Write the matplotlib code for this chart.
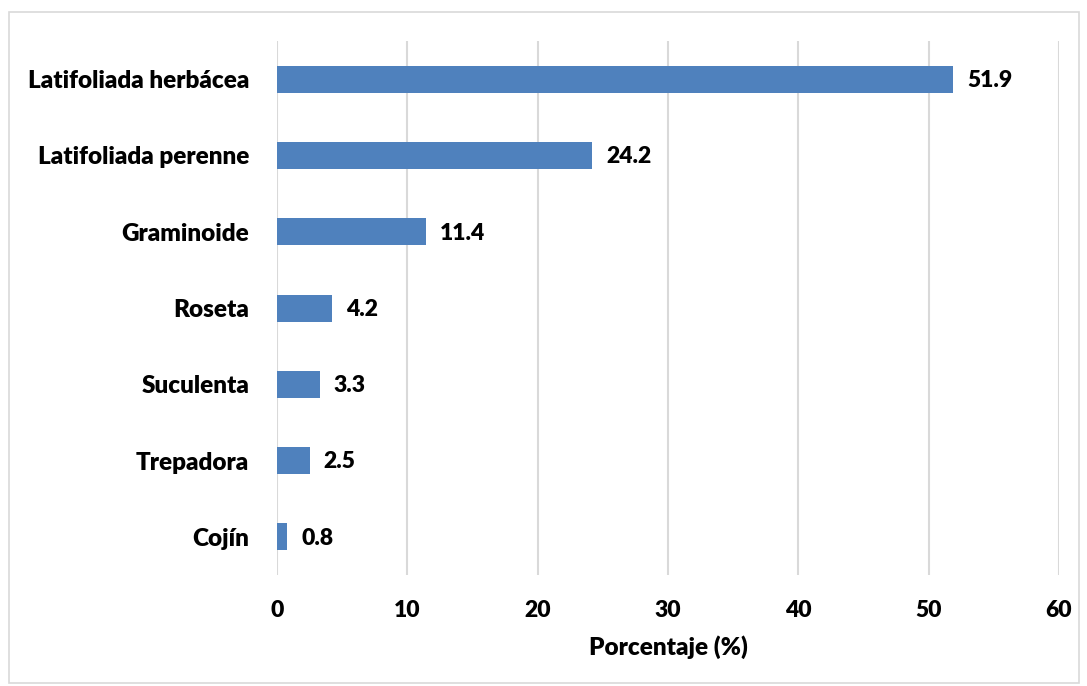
import matplotlib.pyplot as plt
from matplotlib.patches import Rectangle

categorias = ["Latifoliada herbácea", "Latifoliada perenne", "Graminoide",
              "Roseta", "Suculenta", "Trepadora", "Cojín"]
valores = [51.9, 24.2, 11.4, 4.2, 3.3, 2.5, 0.8]
xticks = [0, 10, 20, 30, 40, 50, 60]

plt.rcParams['font.family'] = ['Lato', 'DejaVu Sans']
peso = "heavy"

fig = plt.figure(figsize=(10.87, 6.86), dpi=100)
ax = fig.add_axes([0.2548, 0.1618, 0.7194, 0.7784])

pos = list(range(len(categorias)))[::-1]
ax.barh(pos, valores, height=0.354, color="#4F81BD", zorder=3)
for p, v in zip(pos, valores):
    ax.annotate(f"{v}", (v, p), xytext=(10, -1), textcoords="offset points",
                va="center", ha="left", fontsize=16.5, fontweight=peso)

ax.set_xlim(0, 60)
ax.set_ylim(-0.5, 6.5)
ax.set_xticks(xticks)
ax.set_xticklabels([str(t) for t in xticks], fontsize=16.5, fontweight=peso)
ax.set_yticks(pos)
ax.set_yticklabels(categorias, fontsize=17.5, fontweight=peso)
ax.tick_params(axis="x", length=0, pad=18)
ax.tick_params(axis="y", length=0, pad=20)
ax.grid(axis="x", color="#D9D9D9", linewidth=1.5, zorder=0)
for s in ax.spines.values():
    s.set_visible(False)
ax.set_xlabel("Porcentaje (%)", fontsize=17.5, fontweight=peso, labelpad=10)

fig.patches.append(Rectangle((9 / 1087, 3 / 686), 1070 / 1087, 671 / 686,
                             transform=fig.transFigure, fill=False,
                             edgecolor="#D9D9D9", linewidth=1.2))

fig.savefig("out.png", dpi=100)
